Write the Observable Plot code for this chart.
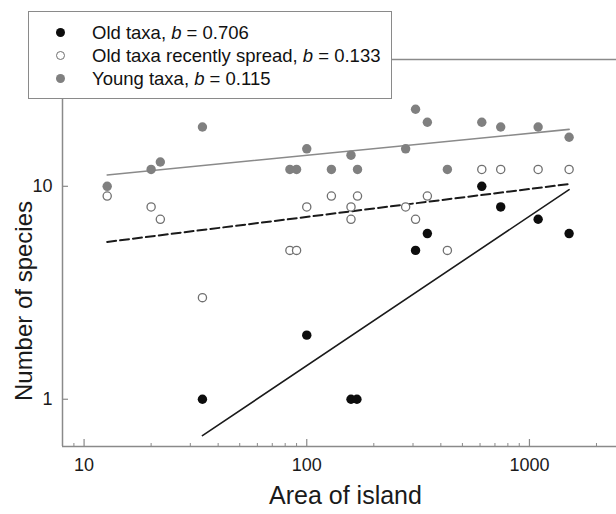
<!DOCTYPE html>
<html>
<head>
<meta charset="utf-8">
<script src="https://cdn.jsdelivr.net/npm/d3@7"></script>
<script src="https://cdn.jsdelivr.net/npm/@observablehq/plot@0.6"></script>
<style>
  body { margin: 0; background: #fff; }
  #wrap { position: relative; width: 616px; height: 514px; font-family: "Liberation Sans", Arial, sans-serif; }
  #legend { position: absolute; left: 28px; top: 11px; width: 364px; height: 88px; box-sizing: border-box;
            border: 1.5px solid #8a8a8a; background: #fff; }
  .row { position: absolute; left: 0; height: 20px; font-size: 18.5px; color: #111; white-space: nowrap; }
  .mk { position: absolute; left: 27px; top: 5px; width: 9px; height: 9px; border-radius: 50%; box-sizing: border-box; }
  .lbl { position: absolute; left: 63px; top: 0; line-height: 20px; }
</style>
</head>
<body>
<div id="wrap"><div id="legend"></div></div>
<script>
// ---- data ----
const youngX  = [12.7, 20, 22, 34, 84, 90, 100, 129, 158, 169, 278, 308, 348, 428, 611, 743, 1094, 1507];
const youngY  = [10, 12, 13, 19, 12, 12, 15, 12, 14, 12, 15, 23, 20, 12, 20, 19, 19, 17];

const recentX = [12.7, 20, 22, 34, 84, 90, 100, 129, 158, 158, 169, 278, 308, 348, 428, 611, 743, 1094, 1507];
const recentY = [9, 8, 7, 3, 5, 5, 8, 9, 8, 7, 9, 8, 7, 9, 5, 12, 12, 12, 12];

const oldX = [34, 100, 158, 168, 308, 348, 611, 743, 1094, 1507];
const oldY = [1, 2, 1, 1, 5, 6, 10, 8, 7, 6];

// fitted power-law lines (end points)
const youngLineX  = [12.7, 1507];
const youngLineY  = [11.3, 18.5];
const recentLineX = [12.7, 1507];
const recentLineY = [5.48, 10.25];
const oldLineX    = [34, 1507];
const oldLineY    = [0.675, 9.65];

const seriesNames = ["Old taxa", "Old taxa recently spread", "Young taxa"];
const slopes = ["0.706", "0.133", "0.115"];

const xMajorTicks = [10, 100, 1000];
const xMinorTicks = [9, 20, 30, 40, 50, 60, 70, 80, 90, 200, 300, 400, 500, 600, 700, 800, 900, 2000];
const yTicks = [1, 10];

const xDomain = [8, 2460];
const yDomain = [0.6, 39.4];

// ---- build ----
const pts = (xs, ys) => xs.map((x, i) => ({x, y: ys[i]}));
const W = 616, H = 514, mL = 62, mR = 0, mT = 59, mB = 68;
const plotW = W - mL - mR, plotH = H - mT - mB;
const axisColor = "#8a8a8a";

const chart = Plot.plot({
  width: W, height: H,
  marginLeft: mL, marginRight: mR, marginTop: mT, marginBottom: mB,
  style: {fontFamily: "'Liberation Sans', Arial, sans-serif", background: "white", overflow: "visible"},
  x: {type: "log", domain: xDomain},
  y: {type: "log", domain: yDomain},
  marks: [
    // frame lines
    Plot.ruleX([xDomain[0]], {stroke: axisColor, strokeWidth: 1.5}),
    Plot.ruleY([yDomain[0]], {stroke: axisColor, strokeWidth: 1.5}),
    Plot.ruleY([yDomain[1]], {stroke: axisColor, strokeWidth: 1.5}),
    // inward ticks
    Plot.tickX(xMajorTicks, {x: d => d, stroke: axisColor, strokeWidth: 1.2, insetTop: plotH - 7}),
    Plot.tickX(xMinorTicks, {x: d => d, stroke: axisColor, strokeWidth: 1, insetTop: plotH - 3}),
    Plot.tickY(yTicks, {y: d => d, stroke: axisColor, strokeWidth: 1.2, insetRight: plotW - 6}),
    // tick labels
    Plot.axisX({ticks: xMajorTicks, tickSize: 0, tickPadding: 12, fontSize: 18, fill: "#1a1a1a", tickFormat: d => String(d), label: null}),
    Plot.axisY({ticks: yTicks, tickSize: 0, tickPadding: 10, fontSize: 18, fill: "#1a1a1a", tickFormat: d => String(d), label: null}),
    // axis titles
    Plot.text(["Area of island"], {frameAnchor: "bottom", textAnchor: "middle", dx: 6, dy: 57, fontSize: 25, fill: "#1a1a1a"}),
    Plot.text(["Number of species"], {frameAnchor: "left", textAnchor: "middle", rotate: -90, dx: -38, dy: 48, fontSize: 24, fill: "#1a1a1a"}),
    // regression lines
    Plot.line(pts(youngLineX, youngLineY), {x: "x", y: "y", stroke: "#8a8a8a", strokeWidth: 1.6}),
    Plot.line(pts(recentLineX, recentLineY), {x: "x", y: "y", stroke: "#1a1a1a", strokeWidth: 2, strokeDasharray: "9,4"}),
    Plot.line(pts(oldLineX, oldLineY), {x: "x", y: "y", stroke: "#1a1a1a", strokeWidth: 1.6}),
    // points
    Plot.dot(pts(youngX, youngY), {x: "x", y: "y", r: 4.7, fill: "#808080", stroke: "none"}),
    Plot.dot(pts(recentX, recentY), {x: "x", y: "y", r: 4.1, fill: "white", stroke: "#707070", strokeWidth: 1.3}),
    Plot.dot(pts(oldX, oldY), {x: "x", y: "y", r: 4.7, fill: "#0d0d0d", stroke: "none"})
  ]
});
const wrap = document.getElementById("wrap");
wrap.insertBefore(chart, wrap.firstChild);

// legend
const legend = document.getElementById("legend");
const markerStyles = [
  "background:#0d0d0d;",
  "background:#fff;border:1.3px solid #707070;",
  "background:#808080;"
];
seriesNames.forEach((name, i) => {
  const row = document.createElement("div");
  row.className = "row";
  row.style.top = (11 + i * 23) + "px";
  row.innerHTML = `<span class="mk" style="${markerStyles[i]}"></span><span class="lbl">${name}, <i>b</i> = ${slopes[i]}</span>`;
  legend.appendChild(row);
});
</script>
</body>
</html>
